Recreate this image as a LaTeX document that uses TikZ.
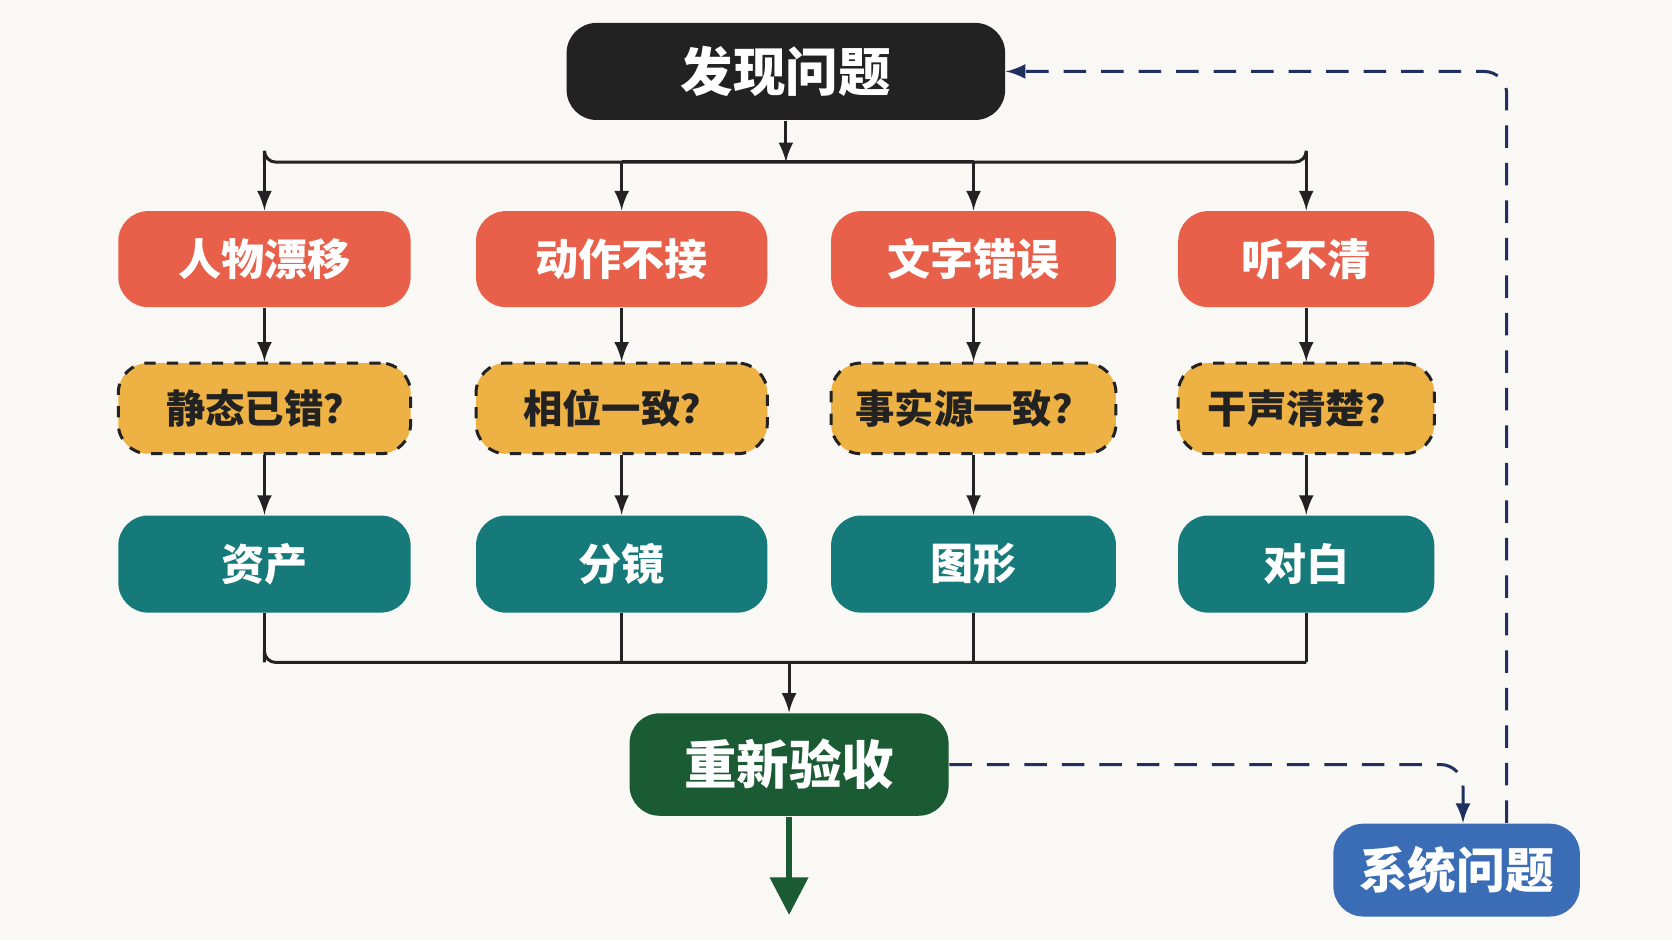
\documentclass[tikz,border=0pt]{standalone}
\usepackage{fontspec}
\setmainfont{Noto Sans CJK SC}
\usetikzlibrary{calc,arrows.meta}
\definecolor{bgc}{HTML}{FAF8F4}
\definecolor{topc}{HTML}{222222}
\definecolor{redc}{HTML}{E8604A}
\definecolor{yelc}{HTML}{EDB144}
\definecolor{teac}{HTML}{167A7A}
\definecolor{grnc}{HTML}{1B5B33}
\definecolor{bluc}{HTML}{3A6DB5}
\definecolor{navc}{HTML}{1F3060}
\begin{document}
\begin{tikzpicture}[x=0.01cm,y=-0.01cm,>=latex]
  \tikzset{
    box/.style={rounded corners=8pt,inner sep=0pt,font=\bfseries,text=white},
    prob/.style={box,fill=redc,minimum height=0.9cm,font=\bfseries\fontsize{11.5}{12}\selectfont},
    chk/.style={box,fill=yelc,draw=topc,dashed,thick,minimum height=0.85cm,text=topc,font=\bfseries\fontsize{10.5}{12}\selectfont},
    fix/.style={box,fill=teac,minimum height=0.91cm,font=\bfseries\fontsize{11.5}{12}\selectfont},
    arr/.style={->,thick,topc},
    loop/.style={->,thick,navc,dash pattern=on 6pt off 4pt}
  }
  % Fondo
  \fill[bgc] (0,0) rectangle (1568,882);
  \useasboundingbox (0,0) rectangle (1568,882);

  % Inicio
  \node[box,fill=topc,minimum width=4.11cm,minimum height=0.91cm,font=\bfseries\fontsize{14}{16}\selectfont] (start) at (737,67) {发现问题};

  % Columnas
  \foreach \n/\x/\w/\a/\b/\c in {1/248/2.74/人物漂移/静态已错？/资产/关键帧,
                                  2/583/2.73/动作不接/相位一致？/分镜/动态,
                                  3/913/2.67/文字错误/事实源一致？/图形/合成,
                                  4/1225/2.40/听不清/干声清楚？/对白/混音}{
    \node[prob,minimum width=\w cm] (p\n) at (\x,243) {\a};
    \node[chk,minimum width=\w cm] (q\n) at (\x,383) {\b};
    \node[fix,minimum width=\w cm] (f\n) at (\x,529) {\c};
    \coordinate (t\n) at ($(p\n.north)+(0,-46)$);
    \coordinate (u\n) at ($(f\n.south)+(0,46)$);
    \draw[arr] (t\n) -- (p\n);
    \draw[arr] (p\n) -- (q\n);
    \draw[arr] (q\n) -- (f\n);
    \draw[thick,topc] (f\n) -- (u\n);
  }
  \coordinate (top) at (737,152);
  \draw[arr] (start) -- (top);
  \draw[thick,topc,rounded corners=3pt] (t1) |- (top) -| (t4);
  \draw[thick,topc] (t2) -- (t3);
  \draw[thick,topc,rounded corners=3pt] (u1) |- (u4);

  % Verificación
  \node[box,fill=grnc,minimum width=2.99cm,minimum height=0.96cm,font=\bfseries\fontsize{14}{16}\selectfont] (rev) at (740,717) {重新验收};
  \coordinate (bot) at (740,621);
  \draw[arr] (bot) -- (rev);
  \coordinate (endp) at (740,858);
  \draw[-{Triangle[width=10pt,length=10pt]},line width=1.4pt,grnc] (rev) -- (endp);

  % Sistema
  \node[box,fill=bluc,minimum width=2.31cm,minimum height=0.87cm,font=\bfseries\fontsize{13}{16}\selectfont] (sys) at (1366,816) {系统问题};
  \coordinate (sysin) at ($(sys.north)+(6,0)$);
  \coordinate (sysout) at ($(sys.north)+(47,0)$);
  \draw[loop,rounded corners=6pt] (rev.east) -| (sysin);
  \draw[loop,rounded corners=6pt] (sysout) |- (start.east);
\end{tikzpicture}
\end{document}
